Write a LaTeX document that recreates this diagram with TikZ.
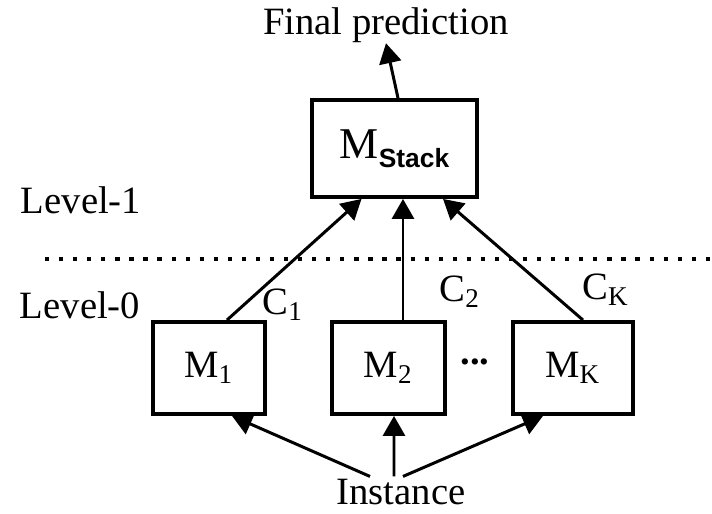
\documentclass[tikz,border=0pt]{standalone}
\usepackage{fontspec}
\setmainfont{Liberation Serif}
\setsansfont{Liberation Sans}
\usetikzlibrary{arrows.meta,positioning,calc}

\begin{document}
\begin{tikzpicture}[
  font=\fontsize{11}{13}\selectfont,
  mbox/.style={draw,line width=1.1pt,minimum width=1.13cm,minimum height=0.92cm,
               align=center},
  sbox/.style={draw,line width=1.1pt,minimum width=1.65cm,minimum height=0.97cm,
               align=center},
  lbl/.style={inner sep=0pt},
  arr/.style={-{Triangle[length=2mm,width=2.2mm]},line width=0.85pt},
  sep/.style={line width=1.2pt,dash pattern=on 1.2pt off 2.8pt}
]
\useasboundingbox (0,0) rectangle (7.12,5.14);
% --- level-1: stacking model ---
\node[lbl](fin)  at(3.86,4.89){Final prediction};
\node[sbox](stack) at(3.945,3.655){\fontsize{12.5}{14}\selectfont M\raisebox{-0.45ex}{\sffamily\bfseries\fontsize{7.5}{9}\selectfont Stack}};
\draw[arr]($(stack.north)+(0.035,0)$)--(fin.south);
\node[lbl](lev1) at(0.81,3.14){Level-1};
% --- separator ---
\coordinate(sl) at(0.45,2.55);
\coordinate(sr) at(7.12,2.55);
\draw[sep](sl)--(sr);
% --- level-0: base models ---
\node[lbl](lev0) at(0.80,2.09){Level-0};
\node[mbox,minimum width=1.12cm](m1) at(2.09,1.46){M\textsubscript{1}};
\node[mbox](m2) at(3.885,1.46){M\textsubscript{2}};
\node[mbox,minimum width=1.20cm](mk) at(5.73,1.46){M\textsubscript{K}};
\node[lbl](dots) at(4.75,1.52){\textbf{...}};
% base model -> stack arrows
\draw[arr]($(m1.north)+(0.18,0)$)--($(stack.south)+(-0.33,0)$);
\draw[arr]($(m2.north)+(0.145,0)$) coordinate(a2)--(a2 |- stack.south);
\draw[arr]($(mk.north)+(0.10,0)$)--($(stack.south)+(0.485,0)$);
\node[lbl](c1) at(2.83,2.09){C\textsubscript{1}};
\node[lbl](c2) at(4.60,2.22){C\textsubscript{2}};
\node[lbl](ck) at(6.06,2.24){C\textsubscript{K}};
% --- input ---
\node[lbl](inst) at(4.01,0.22){Instance};
\draw[arr]($(inst.north)+(-0.31,0.02)$)--($(m1.south)+(0.23,0)$);
\draw[arr]($(inst.north)+(-0.07,0.02)$)--($(m2.south)+(0.055,0)$);
\draw[arr]($(inst.north)+(0.02,0.02)$)--($(mk.south)+(-0.30,0)$);
\end{tikzpicture}
\end{document}
